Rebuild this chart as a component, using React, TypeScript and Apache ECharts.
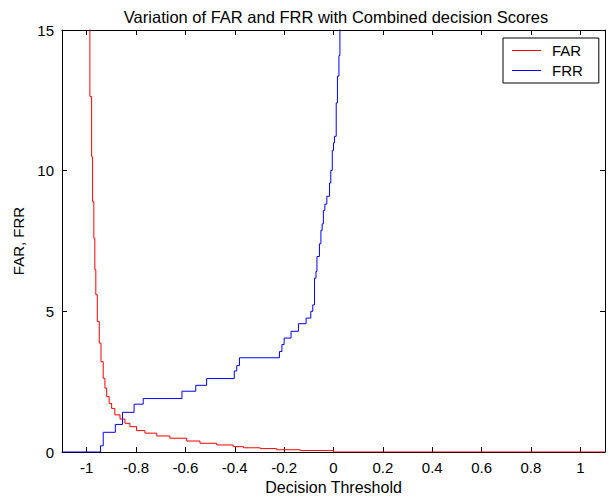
import React, { useEffect, useRef } from "react";
import * as echarts from "echarts";

const titleText = "Variation of FAR and FRR with Combined decision Scores";
const xTicks = [-1, -0.8, -0.6, -0.4, -0.2, 0, 0.2, 0.4, 0.6, 0.8, 1];

const farX = [-0.995, -0.987, -0.98, -0.976, -0.971, -0.967, -0.963, -0.957, -0.949, -0.942, -0.933, -0.926, -0.919, -0.909, -0.899, -0.886, -0.865, -0.845, -0.825, -0.798, -0.764, -0.716, -0.663, -0.595, -0.541, -0.473, -0.406, -0.365, -0.297, -0.23, -0.135, 0.0, 1.1];
const farY = [20, 12.64, 10.5, 8.9, 7.6, 6.48, 5.59, 4.64, 3.87, 3.21, 2.62, 2.27, 1.97, 1.73, 1.55, 1.32, 1.17, 1.02, 0.9, 0.76, 0.67, 0.57, 0.49, 0.39, 0.31, 0.25, 0.19, 0.15, 0.12, 0.08, 0.05, 0.0, 0.0];

const frrX = [-1.1, -0.944, -0.933, -0.884, -0.855, -0.808, -0.771, -0.614, -0.558, -0.514, -0.402, -0.392, -0.381, -0.219, -0.209, -0.2, -0.172, -0.142, -0.111, -0.092, -0.084, -0.077, -0.071, -0.067, -0.057, -0.051, -0.046, -0.041, -0.035, -0.027, -0.016, -0.011, -0.005, 0.0, 0.004, 0.011, 0.016, 0.022, 0.026];
const frrY = [0, 0.22, 0.7, 0.98, 1.41, 1.7, 1.9, 2.16, 2.37, 2.61, 2.88, 3.07, 3.35, 3.57, 3.82, 4.05, 4.29, 4.56, 4.76, 5.0, 5.23, 6.18, 6.42, 6.95, 7.4, 7.88, 8.11, 8.59, 8.81, 9.09, 9.56, 10.01, 10.72, 10.99, 11.22, 12.41, 13.36, 14.09, 20];

const FONT = "Arial, 'Liberation Sans', Helvetica, sans-serif";

export default function App() {
  const ref = useRef<HTMLDivElement>(null);
  useEffect(() => {
    if (!ref.current) return;
    const chart = echarts.init(ref.current, undefined, { renderer: "svg" });
    const axisCommon = {
      axisLine: { show: true, onZero: false, lineStyle: { color: "#000", width: 1 } },
      splitLine: { show: false },
    };
    chart.setOption({
      animation: false,
      backgroundColor: "#fff",
      textStyle: { fontFamily: FONT },
      title: {
        text: titleText,
        left: 331,
        top: 3,
        textAlign: "center",
        textStyle: { fontSize: 16.5, fontWeight: "normal", color: "#000", fontFamily: FONT },
      },
      grid: { left: 62, right: 5, top: 30, bottom: 45, containLabel: false, outerBoundsMode: "none" },
      legend: {
        data: ["FAR", "FRR"],
        orient: "vertical",
        left: 503,
        top: 38,
        padding: [4, 16, 4, 9],
        itemGap: 3,
        itemWidth: 29,
        itemHeight: 1,
        icon: "rect",
        borderColor: "#000",
        borderWidth: 1,
        backgroundColor: "#fff",
        textStyle: { fontSize: 15, color: "#000", fontFamily: FONT, lineHeight: 17, padding: [0, 0, 0, 6] },
      },
      xAxis: [
        {
          type: "value",
          min: -1.1,
          max: 1.1,
          ...axisCommon,
          name: "Decision Threshold",
          nameLocation: "middle",
          nameGap: 25,
          nameTextStyle: { fontSize: 16, color: "#000", fontFamily: FONT },
          axisTick: { show: true, inside: true, length: 5, customValues: xTicks, lineStyle: { color: "#000" } },
          axisLabel: {
            customValues: xTicks,
            fontSize: 15,
            color: "#000",
            margin: 8,
            fontFamily: FONT,
            formatter: (v: number) => String(Math.round(v * 10) / 10),
          },
        },
        {
          type: "value",
          min: -1.1,
          max: 1.1,
          position: "top",
          ...axisCommon,
          axisTick: { show: true, inside: true, length: 5, customValues: xTicks, lineStyle: { color: "#000" } },
          axisLabel: { show: false },
        },
      ],
      yAxis: [
        {
          type: "value",
          min: 0,
          max: 15,
          interval: 5,
          ...axisCommon,
          name: "FAR, FRR",
          nameLocation: "middle",
          nameGap: 34,
          nameRotate: 90,
          nameTextStyle: { fontSize: 15, color: "#000", fontFamily: FONT },
          axisTick: { show: true, inside: true, length: 5, lineStyle: { color: "#000" } },
          axisLabel: { fontSize: 15, color: "#000", margin: 8, fontFamily: FONT },
        },
        {
          type: "value",
          min: 0,
          max: 15,
          interval: 5,
          position: "right",
          ...axisCommon,
          axisTick: { show: true, inside: true, length: 5, lineStyle: { color: "#000" } },
          axisLabel: { show: false },
        },
      ],
      series: [
        {
          name: "FAR",
          type: "line",
          step: "end",
          showSymbol: false,
          symbol: "none",
          color: "#ff0000",
          lineStyle: { color: "#ff0000", width: 1 },
          data: farX.map((x, i) => [x, farY[i]]),
          z: 3,
        },
        {
          name: "FRR",
          type: "line",
          step: "end",
          showSymbol: false,
          symbol: "none",
          color: "#0000ff",
          lineStyle: { color: "#0000ff", width: 1 },
          data: frrX.map((x, i) => [x, frrY[i]]),
          z: 4,
        },
      ],
    });
    return () => chart.dispose();
  }, []);
  return <div ref={ref} style={{ width: 610, height: 497, position: "absolute", left: 0, top: 0 }} />;
}
